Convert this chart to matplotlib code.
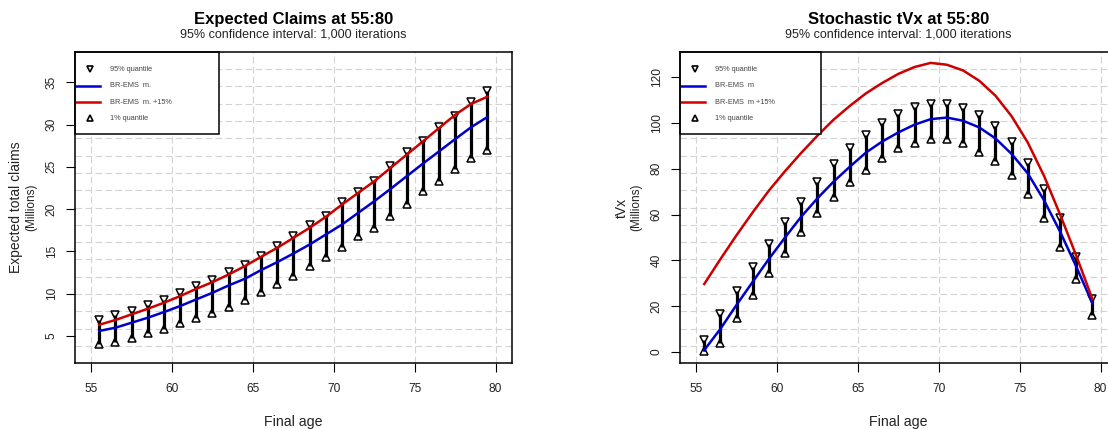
import matplotlib
matplotlib.use('Agg')
import matplotlib.pyplot as plt
from matplotlib.patches import Rectangle
import numpy as np

plt.rcParams['font.family'] = ['Liberation Sans', 'DejaVu Sans']

# ---------------- data ----------------
ages = [55.5, 56.5, 57.5, 58.5, 59.5, 60.5, 61.5, 62.5, 63.5, 64.5, 65.5, 66.5,
        67.5, 68.5, 69.5, 70.5, 71.5, 72.5, 73.5, 74.5, 75.5, 76.5, 77.5, 78.5, 79.5]

claims_q95 = [6.85, 7.5, 8.0, 8.7, 9.3, 10.08, 10.95, 11.6, 12.52, 13.42, 14.48, 15.7,
              16.8, 18.17, 19.23, 20.8, 21.99, 23.36, 25.13, 26.7, 28.08, 29.66, 31.05,
              32.7, 33.95]
claims_q01 = [4.05, 4.25, 4.72, 5.4, 5.8, 6.5, 7.18, 7.72, 8.43, 9.25, 10.25, 11.2,
              12.15, 13.27, 14.37, 15.54, 16.8, 17.74, 19.23, 20.65, 22.1, 23.29, 24.77,
              26.02, 27.05]
claims_mean = [5.6, 5.98, 6.57, 7.16, 7.83, 8.54, 9.33, 10.11, 10.98, 11.76, 12.79, 13.73,
               14.75, 15.81, 16.99, 18.17, 19.55, 20.93, 22.38, 23.88, 25.37, 26.82, 28.28,
               29.7, 30.9]
claims_plus15 = [6.33, 6.89, 7.56, 8.22, 8.93, 9.72, 10.58, 11.37, 12.27, 13.26, 14.36, 15.42,
                 16.6, 17.78, 19.08, 20.53, 21.91, 23.29, 24.86, 26.43, 28.0, 29.58, 31.15,
                 32.45, 33.3]

tvx_q95 = [5.1, 16.3, 26.7, 37.2, 47.1, 56.9, 65.6, 74.4, 81.9, 88.9, 94.8, 99.9,
           103.8, 106.9, 108.3, 108.3, 106.4, 103.5, 98.7, 91.9, 82.4, 71.2, 58.3, 41.6, 23.1]
tvx_q01 = [0.4, 3.9, 14.6, 24.8, 34.3, 43.0, 52.5, 60.5, 67.5, 74.4, 79.5, 84.6,
           88.9, 91.4, 92.9, 92.9, 91.4, 87.5, 83.6, 77.3, 69.0, 58.3, 46.0, 31.8, 16.0]
tvx_mean = [0.7, 10.0, 20.5, 30.6, 40.6, 50.0, 59.1, 67.1, 74.4, 80.9, 87.1, 91.9,
            95.9, 99.3, 101.7, 102.4, 101.0, 98.1, 93.3, 86.5, 78.0, 66.3, 52.5, 37.2, 21.1]
tvx_plus15 = [29.6, 40.5, 51.0, 61.0, 70.5, 79.0, 87.0, 94.5, 101.5, 107.5, 113.0, 117.5,
              121.5, 124.5, 126.3, 125.5, 123.0, 118.5, 112.0, 103.0, 91.5, 77.0, 60.0,
              42.0, 23.0]

x_ticks = [55, 60, 65, 70, 75, 80]
claims_yticks = [5, 10, 15, 20, 25, 30, 35]
tvx_yticks = [0, 20, 40, 60, 80, 100, 120]

subtitle = "95% confidence interval: 1,000 iterations"

BLUE = '#0000CD'
RED = '#CD0000'
GRID = '#D3D3D3'
TXT = '#222222'

W, H = 1108, 429
fig = plt.figure(figsize=(W / 100, H / 100), dpi=100)
fig.patch.set_facecolor('white')

ax_bottom = (H - 363.3) / H
ax_height = 311.6 / H
ax1 = fig.add_axes([75 / W, ax_bottom, 436.7 / W, ax_height])
ax2 = fig.add_axes([680 / W, ax_bottom, 436.7 / W, ax_height])


def legend_box(ax, labels, width):
    y_bot = 0.736
    ax.add_patch(Rectangle((0, y_bot), width, 1 - y_bot, transform=ax.transAxes,
                           facecolor='white', edgecolor='black', lw=1.1, zorder=6,
                           clip_on=False))
    rows = [0.943, 0.8906, 0.8383, 0.786]
    mx, hx0, hx1, tx = 0.034, 0.003, 0.057, 0.080
    ax.plot([mx], [rows[0]], transform=ax.transAxes, ls='none', marker='v', ms=4,
            mfc='none', mec='black', mew=1.2, zorder=7, clip_on=False)
    ax.plot([hx0, hx1], [rows[1]] * 2, transform=ax.transAxes, color=BLUE, lw=1.8,
            zorder=7, clip_on=False)
    ax.plot([hx0, hx1], [rows[2]] * 2, transform=ax.transAxes, color=RED, lw=1.8,
            zorder=7, clip_on=False)
    ax.plot([mx], [rows[3]], transform=ax.transAxes, ls='none', marker='^', ms=4,
            mfc='none', mec='black', mew=1.2, zorder=7, clip_on=False)
    for r, lab in zip(rows, labels):
        ax.text(tx, r, lab, transform=ax.transAxes, ha='left', va='center',
                fontsize=5.3, color='#444444', zorder=8)


def panel(ax, q95, q01, mean, plus, ylim, yticks, title, ylabel, labels, leg_w):
    ax.set_xlim(54, 81)
    ax.set_ylim(*ylim)
    ax.set_xticks(x_ticks)
    ax.set_yticks(yticks)
    dash = (0, (6, 3))
    for xv in x_ticks:
        ax.axvline(xv, color=GRID, lw=0.8, ls=dash, zorder=0)
    for yv in np.linspace(ylim[0], ylim[1], 19)[1:-1]:
        ax.axhline(yv, color=GRID, lw=0.8, ls=dash, zorder=0)

    ax.vlines(ages, q01, q95, color='black', lw=2.3, zorder=2)
    ax.plot(ages, q95, ls='none', marker='v', ms=5.8, mfc='none', mec='black',
            mew=1.1, zorder=3)
    ax.plot(ages, q01, ls='none', marker='^', ms=5.8, mfc='none', mec='black',
            mew=1.1, zorder=3)
    ax.plot(ages, mean, color=BLUE, lw=1.8, zorder=4)
    ax.plot(ages, plus, color=RED, lw=1.8, zorder=4)

    for s in ax.spines.values():
        s.set_linewidth(1.1)
        s.set_zorder(9)
    ax.tick_params(length=6.5, width=0.8, direction='out', labelsize=8.6,
                   labelcolor=TXT)
    ax.tick_params(axis='x', pad=8.0)
    ax.tick_params(axis='y', pad=6.0, labelrotation=90)
    for lbl in ax.get_yticklabels():
        lbl.set_va('center')

    ax.set_title(title, fontsize=12, fontweight='bold', y=1.104, pad=0, va='center')
    ax.text(0.5, 1.0568, subtitle, transform=ax.transAxes, ha='center', va='center',
            fontsize=9, color=TXT)
    ax.set_xlabel('Final age', fontsize=10.2, color=TXT)
    ax.xaxis.set_label_coords(0.5, -0.1874)
    ax.xaxis.label.set_va('center')
    ax.set_ylabel(ylabel, fontsize=10, color=TXT)
    ax.yaxis.set_label_coords(-0.134, 0.5)
    ax.yaxis.label.set_va('center')
    ax.text(-0.1005, 0.5, '(Millions)', transform=ax.transAxes, rotation=90,
            rotation_mode='anchor', ha='center', va='center', fontsize=8.5, color=TXT)

    legend_box(ax, labels, leg_w)


panel(ax1, claims_q95, claims_q01, claims_mean, claims_plus15, (1.77, 38.62),
      claims_yticks, 'Expected Claims at 55:80', 'Expected total claims',
      ['95% quantile', 'BR-EMS  m.', 'BR-EMS  m. +15%', '1% quantile'], 0.3297)
panel(ax2, tvx_q95, tvx_q01, tvx_mean, tvx_plus15, (-5.07, 131.2),
      tvx_yticks, 'Stochastic tVx at 55:80', 'tVx',
      ['95% quantile', 'BR-EMS  m', 'BR-EMS  m +15%', '1% quantile'], 0.3222)

fig.savefig('out.png', dpi=100)
